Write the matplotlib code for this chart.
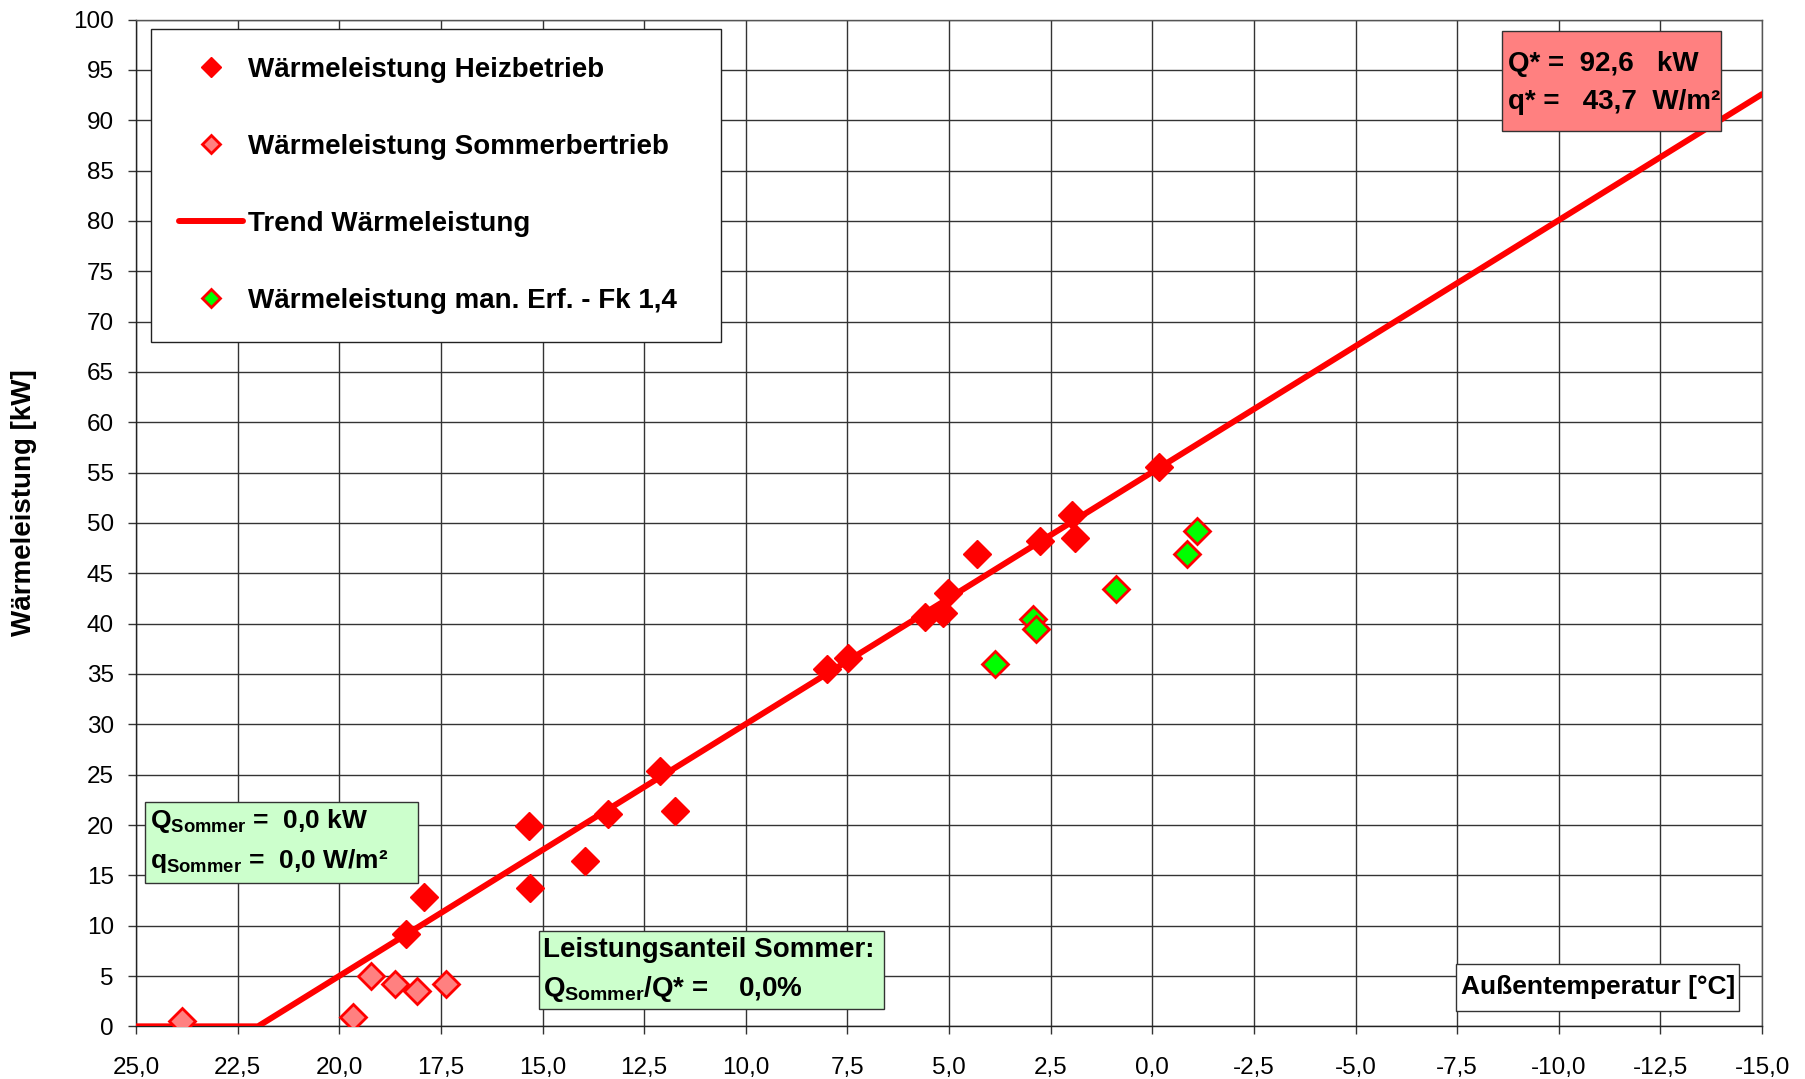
import numpy as np
import matplotlib.pyplot as plt
from matplotlib.patches import Rectangle
from matplotlib.ticker import FuncFormatter, MultipleLocator

plt.rcParams['font.family'] = ['Liberation Sans', 'DejaVu Sans']
plt.rcParams['mathtext.fontset'] = 'custom'
plt.rcParams['mathtext.rm'] = 'Liberation Sans'
plt.rcParams['mathtext.bf'] = 'Liberation Sans:bold'

# measured heat output in heating mode
heiz_temp = [18.37, 17.92, 15.34, 15.31, 13.95, 13.39, 12.11, 11.74, 8.0, 7.49,
             5.6, 5.14, 5.03, 4.32, 2.76, 1.97, 1.91, -0.16]
heiz_kw = [9.15, 12.8, 19.9, 13.7, 16.4, 21.05, 25.4, 21.4, 35.5, 36.6,
           40.7, 41.1, 43.0, 46.9, 48.2, 50.8, 48.5, 55.6]

# summer operation
sommer_temp = [23.87, 19.65, 19.22, 18.63, 18.09, 17.38]
sommer_kw = [0.5, 0.9, 5.0, 4.2, 3.5, 4.2]

# manual readings, factor 1,4
man_temp = [3.87, 2.93, 2.85, 0.89, -0.86, -1.09]
man_kw = [36.0, 40.5, 39.5, 43.4, 46.9, 49.2]

# trend: zero above heating limit, linear to design point
trend_temp = [25.0, 22.0, -15.0]
trend_kw = [0.0, 0.0, 92.6]

q_star = 92.6
q_spez = 43.7
q_sommer = 0.0
q_sommer_spez = 0.0
anteil = 0.0


def komma(v, pos=None):
    return f"{v:.1f}".replace('.', ',')


def infobox(ax, x0, y0, x1, y1, fc, lines, tx, ty, size=20, ha='left'):
    # rectangle in axes coords with one text item per line
    ax.add_patch(Rectangle((x0, y0), x1 - x0, y1 - y0, transform=ax.transAxes,
                           fc=fc, ec='#333333', lw=1, zorder=7))
    for s, yy in zip(lines, ty):
        ax.text(tx, yy, s, transform=ax.transAxes, ha=ha, va='center',
                fontsize=size, fontweight='bold', zorder=8)


fig = plt.figure(figsize=(18.06, 10.79), dpi=100)
ax = fig.add_axes([0.0753, 0.0488, 0.9004, 0.933])

ax.plot(trend_temp, trend_kw, color='#FF0000', lw=4.3, solid_capstyle='round',
        label='Trend Wärmeleistung', zorder=3)
ax.plot(heiz_temp, heiz_kw, 'D', color='#FF0000', ms=14, mec='#FF0000', mew=1,
        ls='none', label='Wärmeleistung Heizbetrieb', zorder=4)
ax.plot(sommer_temp, sommer_kw, 'D', mfc='#FF8080', mec='#FF0000', ms=13, mew=2,
        ls='none', label='Wärmeleistung Sommerbertrieb', zorder=4)
ax.plot(man_temp, man_kw, 'D', mfc='#00FF00', mec='#FF0000', ms=13, mew=2,
        ls='none', label='Wärmeleistung man. Erf. - Fk 1,4', zorder=4)

ax.set_xlim(25, -15)
ax.set_ylim(0, 100)
ax.xaxis.set_major_locator(MultipleLocator(2.5))
ax.yaxis.set_major_locator(MultipleLocator(5))
ax.xaxis.set_major_formatter(FuncFormatter(komma))
ax.yaxis.set_major_formatter(FuncFormatter(lambda v, p: f"{v:.0f}"))
ax.tick_params(axis='both', direction='out', length=6, width=1, labelsize=17.5,
               color='#333333')
ax.tick_params(axis='x', pad=16)
ax.tick_params(axis='y', pad=10)
ax.grid(True, color='#333333', lw=1)
ax.set_axisbelow(True)
for s in ax.spines.values():
    s.set_color('#555555')
    s.set_linewidth(1)
ax.spines['left'].set_color('#222222')
ax.spines['bottom'].set_color('#222222')

ax.set_ylabel('Wärmeleistung [kW]', fontsize=20, fontweight='bold')
ax.yaxis.set_label_coords(-0.061, 0.52)

# legend order as in the chart
h, l = ax.get_legend_handles_labels()
order = [1, 2, 0, 3]
leg = ax.legend([h[i] for i in order], [l[i] for i in order],
                loc='upper left', bbox_to_anchor=(0.0092, 0.6865, 0.3506, 0.3043),
                mode='expand',
                prop={'weight': 'bold', 'size': 20}, frameon=True, fancybox=False,
                edgecolor='#222222', framealpha=1, labelspacing=1.84,
                handlelength=2.3, handletextpad=0.2, borderpad=1.0,
                borderaxespad=0, markerscale=0.7)
leg.get_frame().set_linewidth(1)
leg.set_zorder(6)

infobox(ax, 0.840, 0.889, 0.9745, 0.9886, '#FF8080',
        [f"Q* =  {komma(q_star)}   kW", f"q* =   {komma(q_spez)}  W/m²"],
        0.8435, [0.9555, 0.9185])

infobox(ax, 0.0057, 0.1419, 0.1735, 0.2231, '#CCFFCC',
        [r"Q$_\mathbf{Sommer}$ =  " + f"{komma(q_sommer)} kW",
         r"q$_\mathbf{Sommer}$ =  " + f"{komma(q_sommer_spez)} W/m²"],
        0.0085, [0.2035, 0.1645], size=19)

infobox(ax, 0.2479, 0.0172, 0.4603, 0.0950, '#CCFFCC',
        ["Leistungsanteil Sommer:",
         r"Q$_\mathbf{Sommer}$/Q* =    " + f"{komma(anteil)}%"],
        0.2500, [0.0755, 0.0375], size=20)

infobox(ax, 0.8116, 0.0149, 0.9858, 0.0618, 'white',
        ['Außentemperatur [°C]'], 0.899, [0.0389], size=19, ha='center')

fig.savefig('out.png', dpi=100)
